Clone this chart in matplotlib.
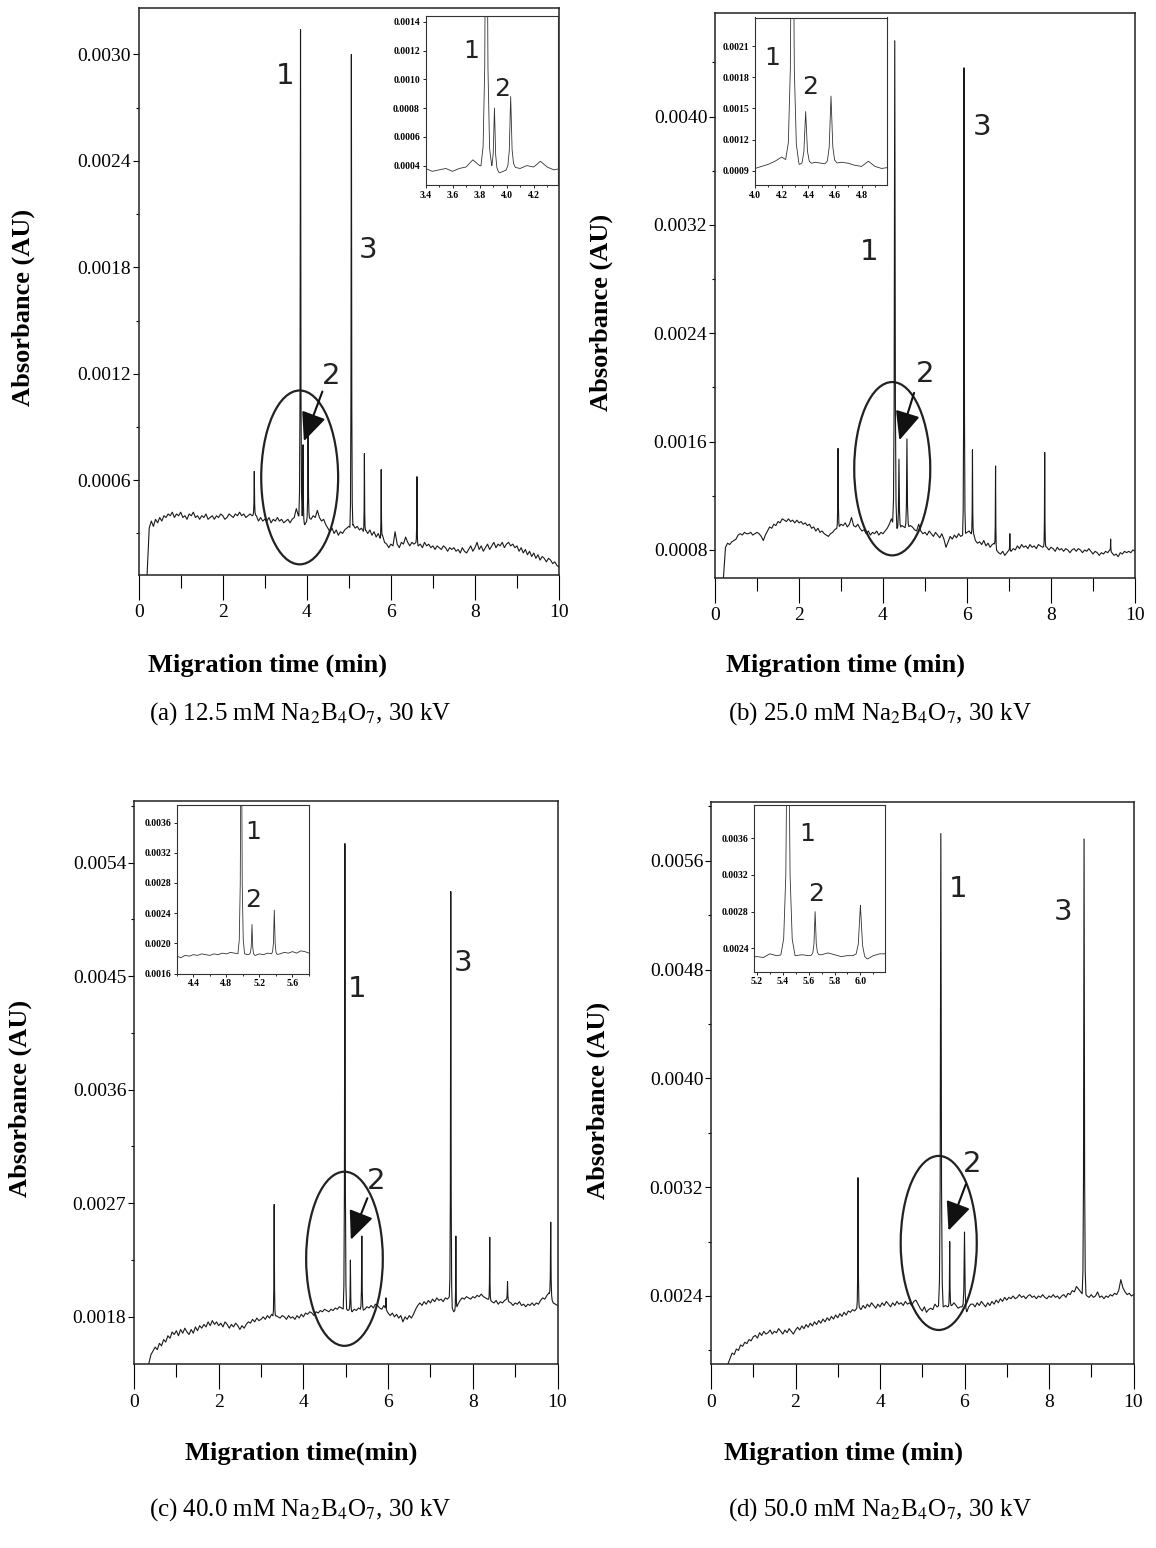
import numpy as np
import matplotlib
matplotlib.use("Agg")
import matplotlib.pyplot as plt
from matplotlib.patches import Ellipse, ArrowStyle
from matplotlib.ticker import MultipleLocator, FormatStrFormatter

plt.rcParams['font.family'] = ['Liberation Serif', 'DejaVu Serif']
plt.rcParams['mathtext.fontset'] = 'stix'

# ---------------- data ----------------
STEP = 0.05          # baseline sampling step (min)
SCALE = 1e-5         # baseline values are in 1e-5 AU

# (a) 12.5 mM
a_start = 0.20
a_base = [7, 33, 37, 34, 38, 36, 39, 37, 40, 39, 41, 40, 42, 39, 41, 40, 42, 39, 40, 38,
          41, 40, 42, 39, 40, 38, 40, 39, 41, 38, 39, 40, 38, 40, 39, 41, 40, 38, 39, 41,
          40, 39, 41, 40, 42, 40, 41, 39, 40, 41, 40, 41, 40, 37, 39, 37, 38, 37, 39, 36,
          38, 37, 39, 37, 38, 36, 37, 38, 36, 38, 39, 44, 40, 39, 38, 35, 37, 39, 38, 40,
          39, 43, 39, 37, 38, 35, 33, 31, 33, 30, 32, 29, 31, 30, 32, 33, 34, 33, 35, 33,
          34, 32, 33, 31, 32, 30, 32, 29, 31, 28, 30, 27, 29, 25, 24, 22, 24, 23, 31, 24,
          22, 25, 24, 28, 25, 23, 25, 24, 25, 23, 24, 22, 25, 23, 24, 22, 23, 21, 23, 22,
          21, 23, 22, 20, 22, 21, 22, 20, 21, 19, 22, 20, 19, 21, 23, 20, 22, 25, 21, 23,
          20, 22, 24, 21, 23, 25, 22, 24, 23, 25, 22, 24, 25, 23, 24, 22, 23, 20, 22, 19,
          21, 18, 20, 17, 19, 16, 18, 15, 17, 16, 14, 16, 15, 13, 14, 12, 11]
a_peak_t = [2.75, 3.85, 3.91, 4.03, 5.06, 5.37, 5.77, 6.62]
a_peak_h = [0.00065, 0.00314, 0.00080, 0.00088, 0.00300, 0.00075, 0.00066, 0.00062]
a_peak_w = [0.03, 0.04, 0.03, 0.035, 0.035, 0.025, 0.025, 0.025]

# (b) 25.0 mM
b_start = 0.20
b_base = [59, 82, 85, 84, 86, 87, 88, 91, 92, 91, 93, 92, 92, 93, 91, 92, 93, 92, 90, 87,
          91, 94, 97, 96, 99, 98, 101, 100, 103, 102, 101, 103, 101, 102, 100, 102, 100, 101, 99, 100,
          98, 99, 96, 97, 94, 96, 93, 94, 92, 91, 90, 92, 93, 95, 96, 97, 99, 98, 100, 97,
          99, 104, 98, 97, 99, 96, 94, 95, 92, 94, 91, 93, 92, 94, 91, 93, 92, 94, 96, 99,
          103, 99, 98, 95, 96, 98, 97, 96, 97, 98, 97, 95, 94, 99, 94, 92, 93, 91, 94, 92,
          90, 93, 91, 89, 92, 88, 82, 86, 90, 88, 91, 89, 92, 90, 91, 92, 93, 94, 92, 93,
          87, 85, 86, 84, 87, 83, 85, 82, 84, 85, 80, 78, 77, 79, 76, 78, 80, 79, 81, 80,
          83, 81, 84, 82, 83, 81, 84, 82, 83, 81, 84, 83, 82, 83, 82, 80, 82, 81, 79, 82,
          80, 81, 79, 81, 80, 78, 80, 81, 79, 81, 80, 78, 80, 79, 81, 79, 77, 79, 78, 76,
          78, 77, 79, 78, 80, 78, 76, 77, 75, 78, 77, 79, 78, 79, 78, 80, 79]
b_peak_t = [2.93, 4.28, 4.38, 4.57, 5.93, 6.13, 6.68, 7.02, 7.85, 9.42]
b_peak_h = [0.00155, 0.00456, 0.00147, 0.00162, 0.00436, 0.00154, 0.00142, 0.00092, 0.00152, 0.00088]
b_peak_w = [0.03, 0.05, 0.045, 0.045, 0.035, 0.025, 0.025, 0.02, 0.025, 0.02]

# (c) 40.0 mM
c_start = 0.35
c_base = [143, 150, 153, 156, 154, 159, 157, 162, 160, 165, 163, 168, 166, 169, 165, 170, 167, 171, 168, 166,
          170, 167, 172, 169, 173, 171, 174, 172, 176, 173, 177, 174, 176, 173, 175, 172, 176, 174, 171, 174,
          172, 175, 173, 170, 173, 171, 174, 176, 175, 178, 176, 179, 177, 178, 180, 178, 181, 179, 182, 180,
          181, 180, 179, 181, 180, 178, 181, 179, 180, 178, 181, 179, 182, 180, 183, 182, 184, 183, 181, 184,
          183, 185, 184, 186, 185, 184, 186, 185, 187, 186, 188, 187, 186, 187, 185, 186, 184, 186, 185, 187,
          186, 185, 186, 188, 187, 189, 187, 190, 189, 187, 186, 189, 186, 183, 181, 183, 180, 182, 179, 181,
          176, 180, 178, 181, 179, 182, 186, 189, 191, 189, 192, 190, 193, 191, 194, 192, 195, 193, 194, 192,
          195, 194, 196, 188, 184, 186, 190, 193, 195, 194, 196, 195, 194, 196, 195, 197, 196, 198, 196, 195,
          194, 194, 192, 191, 193, 190, 192, 191, 193, 194, 192, 191, 189, 191, 190, 192, 189, 190, 188, 190,
          189, 191, 189, 191, 190, 193, 195, 194, 197, 199, 195, 191, 190, 189]
c_peak_t = [3.31, 4.98, 5.11, 5.38, 5.95, 7.48, 7.60, 8.40, 8.82, 9.84]
c_peak_h = [0.00269, 0.00555, 0.00225, 0.00244, 0.00195, 0.00517, 0.00244, 0.00243, 0.00208, 0.00255]
c_peak_w = [0.03, 0.04, 0.03, 0.035, 0.02, 0.035, 0.025, 0.025, 0.03, 0.035]

# (d) 50.0 mM
d_start = 0.40
d_base = [190, 194, 198, 197, 201, 200, 204, 203, 206, 205, 208, 207, 210, 211, 209, 213, 211, 214, 212, 213,
          215, 212, 214, 213, 216, 214, 212, 215, 213, 216, 214, 212, 215, 217, 215, 218, 216, 219, 217, 220,
          218, 221, 219, 222, 220, 223, 221, 224, 222, 225, 223, 226, 224, 227, 225, 228, 226, 229, 228, 230,
          229, 231, 232, 230, 233, 231, 234, 232, 235, 233, 231, 234, 232, 235, 233, 236, 234, 232, 235, 233,
          236, 234, 235, 233, 236, 234, 235, 233, 236, 237, 234, 231, 229, 232, 228, 230, 231, 230, 234, 232,
          233, 233, 232, 233, 232, 233, 233, 235, 233, 231, 232, 232, 229, 228, 232, 234, 234, 232, 235, 233,
          236, 234, 232, 235, 233, 236, 234, 237, 235, 238, 236, 239, 237, 239, 238, 240, 238, 239, 241, 239,
          240, 238, 240, 241, 239, 240, 238, 240, 239, 241, 239, 238, 240, 239, 241, 239, 240, 238, 240, 241,
          239, 242, 241, 244, 243, 247, 245, 243, 241, 242, 240, 239, 241, 239, 240, 243, 239, 240, 238, 240,
          239, 241, 240, 242, 241, 244, 252, 246, 243, 241, 242, 240, 241]
d_peak_t = [3.48, 5.44, 5.65, 6.00, 8.83]
d_peak_h = [0.00327, 0.00580, 0.00280, 0.00287, 0.00576]
d_peak_w = [0.03, 0.055, 0.03, 0.055, 0.045]

captions = [r"(a) 12.5 mM Na$_2$B$_4$O$_7$, 30 kV", r"(b) 25.0 mM Na$_2$B$_4$O$_7$, 30 kV",
            r"(c) 40.0 mM Na$_2$B$_4$O$_7$, 30 kV", r"(d) 50.0 mM Na$_2$B$_4$O$_7$, 30 kV"]
xlabels = ["Migration time (min)", "Migration time (min)", "Migration time(min)", "Migration time (min)"]
ylabel = "Absorbance (AU)"

# peak shape used to draw each peak (relative offsets / relative heights)
PROF_X = np.array([-1.0, -0.6, -0.3, -0.12, 0.0, 0.12, 0.3, 0.6, 1.0])
PROF_Y = np.array([0.0, 0.05, 0.25, 0.7, 1.0, 0.7, 0.25, 0.05, 0.0])


def build_trace(start, base, pt, ph, pw):
    bt = start + STEP * np.arange(len(base))
    by = np.asarray(base, float) * SCALE
    grids = [bt] + [t + PROF_X * w for t, w in zip(pt, pw)]
    tt = np.unique(np.concatenate(grids))
    tt = tt[(tt >= bt[0]) & (tt <= bt[-1])]
    yy = np.interp(tt, bt, by)
    for t, h, w in zip(pt, ph, pw):
        local = np.interp(t, bt, by)
        yy = yy + (h - local) * np.interp(tt, t + PROF_X * w, PROF_Y, left=0, right=0)
    return tt, yy


W, H = 1156, 1548
fig = plt.figure(figsize=(W / 100, H / 100), dpi=100)


def rect(l, t, r, b):
    return [l / W, 1 - b / H, (r - l) / W, (b - t) / H]


def fpos(x, y):
    return (x / W, 1 - y / H)


panels = [
    dict(data=(a_start, a_base, a_peak_t, a_peak_h, a_peak_w),
         main=(138.7, 8.3, 559, 575), ylim=(0.000066, 0.00326), major=0.0006, minor=0.0003,
         inset=(425.5, 16, 558, 185), ixlim=(3.4, 4.38), iylim=(0.000265, 0.00144),
         ixmaj=0.2, ixmin=0.1, iymaj=0.0002, ixfmt='%.1f',
         ell=(3.83, 0.000616, 1.83, 0.00098), arrow=((4.37, 0.00110), (3.93, 0.00082)),
         lab2=(4.58, 0.00119), lab1=(3.48, 0.00288), lab3=(5.46, 0.0019),
         ilab1=(3.74, 0.00120), ilab2=(3.97, 0.00093),
         xl=(268, 665), yl=(23, 307), cap=(300, 714)),
    dict(data=(b_start, b_base, b_peak_t, b_peak_h, b_peak_w),
         main=(715, 13, 1135, 578), ylim=(0.000593, 0.004765), major=0.0008, minor=0.0004,
         inset=(755, 17.5, 887, 185), ixlim=(4.0, 4.99), iylim=(0.00076, 0.00238),
         ixmaj=0.2, ixmin=0.1, iymaj=0.0003, ixfmt='%.1f',
         ell=(4.22, 0.0014, 1.81, 0.00128), arrow=((4.74, 0.00196), (4.39, 0.00161)),
         lab2=(5.0, 0.0021), lab1=(3.68, 0.0030), lab3=(6.35, 0.00392),
         ilab1=(4.13, 0.00199), ilab2=(4.41, 0.00171),
         xl=(846, 665), yl=(601, 312), cap=(880, 714)),
    dict(data=(c_start, c_base, c_peak_t, c_peak_h, c_peak_w),
         main=(134, 800.7, 557.5, 1364.4), ylim=(0.001423, 0.00589), major=0.0009, minor=0.00045,
         inset=(176.8, 805.3, 309, 973.5), ixlim=(4.2, 5.8), iylim=(0.0016, 0.00383),
         ixmaj=0.4, ixmin=0.2, iymaj=0.0004, ixfmt='%.1f',
         ell=(4.97, 0.00226, 1.81, 0.00138), arrow=((5.51, 0.00274), (5.12, 0.00241)),
         lab2=(5.71, 0.00288), lab1=(5.28, 0.0044), lab3=(7.77, 0.0046),
         ilab1=(5.12, 0.00348), ilab2=(5.12, 0.00257),
         xl=(301, 1453), yl=(20, 1098), cap=(300, 1510)),
    dict(data=(d_start, d_base, d_peak_t, d_peak_h, d_peak_w),
         main=(711, 801.6, 1133.5, 1364.4), ylim=(0.001897, 0.006035), major=0.0008, minor=0.0004,
         inset=(754.3, 805, 885, 971.7), ixlim=(5.18, 6.19), iylim=(0.002145, 0.003963),
         ixmaj=0.2, ixmin=0.1, iymaj=0.0004, ixfmt='%.1f',
         ell=(5.39, 0.00279, 1.8, 0.00128), arrow=((6.03, 0.00322), (5.62, 0.00288)),
         lab2=(6.17, 0.00337), lab1=(5.86, 0.00539), lab3=(8.34, 0.00522),
         ilab1=(5.59, 0.00365), ilab2=(5.66, 0.00299),
         xl=(844, 1453), yl=(598, 1100), cap=(880, 1510)),
]

LAB_FONT = ['DejaVu Sans']

for i, p in enumerate(panels):
    tt, yy = build_trace(*p['data'])
    ax = fig.add_axes(rect(*p['main']))
    ax.plot(tt, yy, color='#1a1a1a', lw=0.8)
    ax.set_xlim(0, 10)
    ax.set_ylim(*p['ylim'])
    ax.xaxis.set_major_locator(MultipleLocator(2))
    ax.xaxis.set_minor_locator(MultipleLocator(1))
    ax.yaxis.set_major_locator(MultipleLocator(p['major']))
    ax.yaxis.set_minor_locator(MultipleLocator(p['minor']))
    ax.yaxis.set_major_formatter(FormatStrFormatter('%.4f'))
    ax.xaxis.set_major_formatter(FormatStrFormatter('%d'))
    ax.tick_params(axis='x', which='major', direction='out', length=18, width=0.8, pad=3,
                   labelsize=14, top=False)
    ax.tick_params(axis='x', which='minor', direction='out', length=9, width=0.8, top=False)
    ax.tick_params(axis='y', which='major', direction='out', length=4, width=0.8, pad=1.5,
                   labelsize=14, right=False)
    ax.tick_params(axis='y', which='minor', direction='out', length=2.5, width=0.8, right=False)
    for s in ax.spines.values():
        s.set_linewidth(1.1)
        s.set_color('#222222')

    # ellipse and arrow
    ex, ey, ew, eh = p['ell']
    ax.add_patch(Ellipse((ex, ey), ew, eh, fill=False, lw=1.6, ec='#222222'))
    (sx, sy), (tx, ty) = p['arrow']
    ax.annotate('', xy=(tx, ty), xytext=(sx, sy),
                arrowprops=dict(arrowstyle=ArrowStyle('-|>', head_length=0.8, head_width=0.35),
                                mutation_scale=22, lw=1.5, color='#111111',
                                shrinkA=0, shrinkB=0))
    ax.text(*p['lab2'], '2', fontsize=21, family=LAB_FONT, ha='center', va='center', color='#222222')
    ax.text(*p['lab1'], '1', fontsize=21, family=LAB_FONT, ha='center', va='center', color='#222222')
    ax.text(*p['lab3'], '3', fontsize=21, family=LAB_FONT, ha='center', va='center', color='#222222')

    # inset
    ia = fig.add_axes(rect(*p['inset']))
    ia.plot(tt, yy, color='#333333', lw=0.6)
    ia.set_xlim(*p['ixlim'])
    ia.set_ylim(*p['iylim'])
    ia.xaxis.set_major_locator(MultipleLocator(p['ixmaj']))
    ia.xaxis.set_minor_locator(MultipleLocator(p['ixmin']))
    ia.yaxis.set_major_locator(MultipleLocator(p['iymaj']))
    ia.yaxis.set_major_formatter(FormatStrFormatter('%.4f'))
    ia.xaxis.set_major_formatter(FormatStrFormatter(p['ixfmt']))
    ia.tick_params(which='both', direction='out', width=0.6, labelsize=7, pad=1.5)
    ia.tick_params(which='major', length=2.5)
    ia.tick_params(which='minor', length=1.5)
    for lab in ia.get_xticklabels() + ia.get_yticklabels():
        lab.set_fontweight('bold')
    for s in ia.spines.values():
        s.set_linewidth(0.8)
        s.set_color('#333333')
    ia.text(*p['ilab1'], '1', fontsize=18, family=LAB_FONT, ha='center', va='center', color='#222222')
    ia.text(*p['ilab2'], '2', fontsize=18, family=LAB_FONT, ha='center', va='center', color='#222222')

    # axis titles and caption
    fig.text(*fpos(*p['xl']), xlabels[i], fontsize=19, fontweight='bold', ha='center', va='center')
    fig.text(*fpos(*p['yl']), ylabel, fontsize=19, fontweight='bold', ha='center', va='center',
             rotation=90)
    fig.text(*fpos(*p['cap']), captions[i], fontsize=18, ha='center', va='center')

fig.savefig('out.png', dpi=100, facecolor='white')
